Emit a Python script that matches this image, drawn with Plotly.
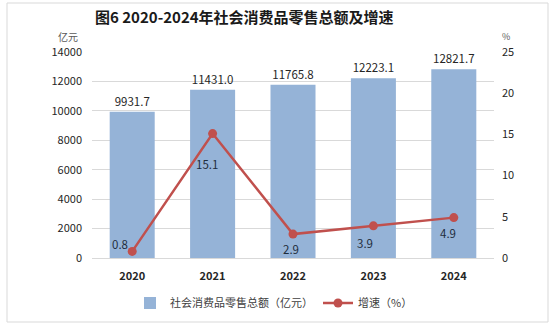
import plotly.graph_objects as go

years = ["2020", "2021", "2022", "2023", "2024"]
sales = [9931.7, 11431.0, 11765.8, 12223.1, 12821.7]
growth = [0.8, 15.1, 2.9, 3.9, 4.9]
sales_labels = ["9931.7", "11431.0", "11765.8", "12223.1", "12821.7"]
growth_labels = ["0.8", "15.1", "2.9", "3.9", "4.9"]
left_ticks = [0, 2000, 4000, 6000, 8000, 10000, 12000, 14000]
right_ticks = [0, 5, 10, 15, 20, 25]

W, H = 553, 330
L, R, T, B = 92, 494, 52, 258
FONT = "Noto Sans CJK SC, Open Sans, sans-serif"

def px(x):
    return (x - L) / (R - L)

def py(y):
    return (B - y) / (B - T)

fig = go.Figure()
fig.add_trace(go.Bar(
    x=years, y=sales, name="社会消费品零售总额（亿元）",
    marker=dict(color="#95B3D7", line=dict(width=0)),
    text=sales_labels, textposition="outside", cliponaxis=False,
    textfont=dict(size=11.5, color="#262626", family=FONT),
))
fig.add_trace(go.Scatter(
    x=years, y=growth, name="增速（%）", yaxis="y2",
    mode="lines+markers",
    line=dict(color="#C0504D", width=2.5),
    marker=dict(color="#C0504D", size=9),
    cliponaxis=False,
))

shifts = [(-12, 7), (-6, -30), (-2, -15), (-8, -17), (-6, -15)]
for i, (g, lab, (dx, dy)) in enumerate(zip(growth, growth_labels, shifts)):
    fig.add_annotation(x=i, y=g, xref="x", yref="y2", text=lab, showarrow=False,
                       xshift=dx, yshift=dy,
                       font=dict(size=11.5, color="#1F2D3D", family=FONT))

fig.add_annotation(xref="paper", yref="paper", x=px(93), y=py(16), xanchor="left", yanchor="middle",
                   text="<b>图6 2020-2024年社会消费品零售总额及增速</b>", showarrow=False,
                   font=dict(size=15, color="#1a1a1a", family=FONT))
fig.add_annotation(xref="paper", yref="paper", x=px(68), y=py(36), xanchor="center", yanchor="middle",
                   text="亿元", showarrow=False, font=dict(size=10, color="#595959", family=FONT))
fig.add_annotation(xref="paper", yref="paper", x=px(506), y=py(36), xanchor="center", yanchor="middle",
                   text="%", showarrow=False, font=dict(size=9, color="#595959", family=FONT))

fig.add_shape(type="rect", xref="paper", yref="paper", x0=px(7), x1=px(548), y0=py(322), y1=py(3),
              line=dict(color="#d9d9d9", width=1), layer="below")

fig.update_layout(
    width=W, height=H,
    margin=dict(l=L, r=W - R, t=T, b=H - B),
    paper_bgcolor="white", plot_bgcolor="white",
    font=dict(family=FONT, size=11, color="#262626"),
    bargap=0.44,
    showlegend=True,
    legend=dict(orientation="h", x=px(274), xanchor="center", y=py(303), yanchor="middle",
                font=dict(size=11, color="#404040", family=FONT),
                bgcolor="rgba(0,0,0,0)"),
    xaxis=dict(type="category", categoryorder="array", categoryarray=years, range=[-0.5, 4.5],
               tickvals=years, ticktext=["<b>" + y + "</b>" for y in years],
               showgrid=False, showline=True, linecolor="#d9d9d9",
               ticks="", tickfont=dict(size=11, color="#262626", family=FONT),
               ticklabelstandoff=8),
    yaxis=dict(range=[0, 14000], tickvals=left_ticks, tickformat="d", showgrid=True, gridcolor="#d9d9d9",
               zeroline=False, showline=False, ticks="", ticklabelstandoff=9,
               tickfont=dict(size=11, color="#262626", family=FONT)),
    yaxis2=dict(range=[0, 25], tickvals=right_ticks, overlaying="y", side="right",
                showgrid=False, zeroline=False, showline=False, ticks="", ticklabelstandoff=7,
                tickfont=dict(size=11, color="#262626", family=FONT)),
)

fig.write_html("out.html")
